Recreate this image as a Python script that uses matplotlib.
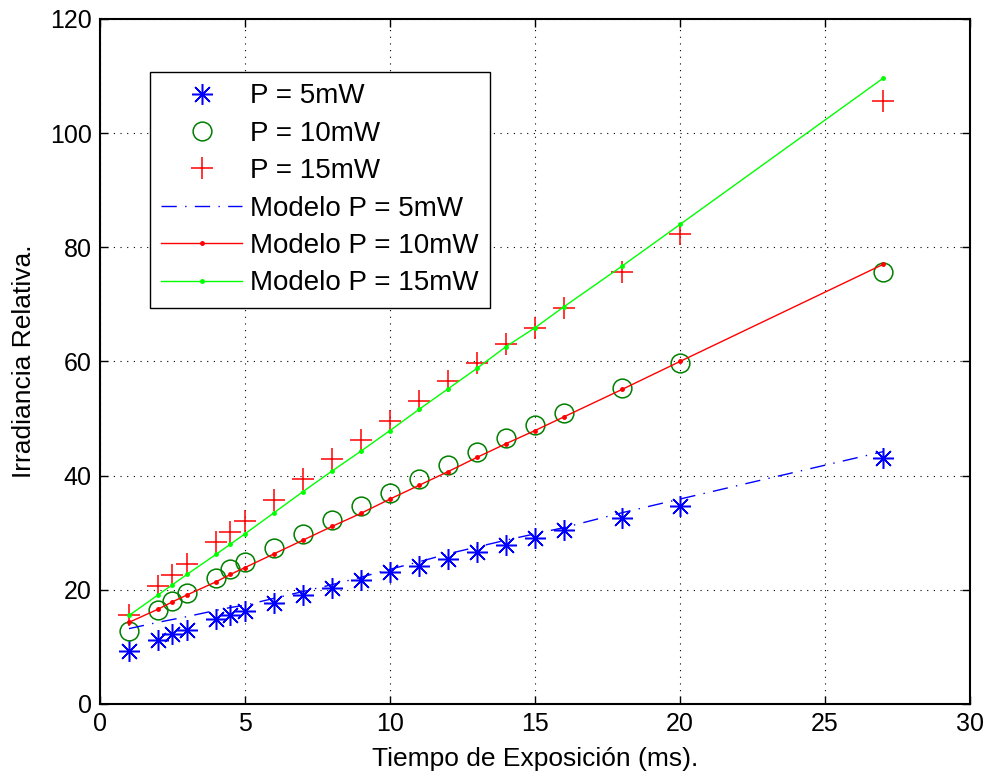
import matplotlib
matplotlib.use("Agg")
import matplotlib.pyplot as plt

x = [1, 2, 2.5, 3, 4, 4.5, 5, 6, 7, 8, 9, 10, 11, 12, 13, 14, 15, 16, 18, 20, 27]
p5 = [9.2, 11.2, 12.3, 13.0, 14.8, 15.5, 16.2, 17.7, 19.1, 20.4, 21.7, 23.1, 24.2, 25.4,
      26.7, 27.9, 29.1, 30.4, 32.6, 34.7, 43.1]
p10 = [12.8, 16.5, 18.1, 19.4, 22.1, 23.6, 24.8, 27.4, 29.8, 32.3, 34.6, 36.9, 39.4, 41.8,
       44.2, 46.6, 48.8, 50.9, 55.3, 59.7, 75.7]
p15 = [15.6, 20.6, 22.6, 24.5, 28.3, 30.2, 32.1, 35.7, 39.4, 42.9, 46.3, 49.5, 53.0, 56.5,
       59.7, 63.1, 65.9, 69.3, 75.7, 82.4, 105.7]
m5 = [13.2, 14.3, 14.8, 15.3, 16.4, 16.9, 17.3, 18.5, 19.7, 20.9, 22.2, 23.6, 24.9, 26.3,
      27.5, 28.7, 29.8, 30.9, 33.5, 35.9, 44.2]
m10 = [14.3, 16.6, 17.9, 19.1, 21.4, 22.7, 23.9, 26.3, 28.7, 31.1, 33.4, 35.9, 38.3, 40.7,
       43.2, 45.6, 47.9, 50.3, 55.1, 60.0, 77.0]
m15 = [15.5, 19.1, 20.9, 22.7, 26.2, 28.0, 29.8, 33.5, 37.2, 40.8, 44.3, 47.9, 51.6, 55.2,
       58.8, 62.6, 65.9, 69.6, 76.7, 84.0, 109.6]
labels = ["P = 5mW", "P = 10mW", "P = 15mW", "Modelo P = 5mW", "Modelo P = 10mW", "Modelo P = 15mW"]
xticks = [0, 5, 10, 15, 20, 25, 30]
yticks = [0, 20, 40, 60, 80, 100, 120]

plt.rcParams['font.family'] = ['Liberation Sans', 'DejaVu Sans']

fig = plt.figure(figsize=(9.87, 7.73), dpi=100)
ax = fig.add_axes([0.1013, 0.0893, 0.8815, 0.8862])

ax.plot(x, p5, linestyle='none', marker=(8, 2, 0), markersize=15, color='#0000ff',
        markeredgewidth=1.1, label=labels[0])
ax.plot(x, p10, linestyle='none', marker='o', markersize=13.5, markerfacecolor='none',
        markeredgecolor='#007f00', markeredgewidth=1.1, label=labels[1])
ax.plot(x, p15, linestyle='none', marker='+', markersize=16, color='#ff0000',
        markeredgewidth=1.1, label=labels[2])
ax.plot(x, m5, linestyle=(0, (11, 6, 1, 6)), color='#0000ff', linewidth=1.0, label=labels[3])
ax.plot(x, m10, '-', marker='.', markersize=5, color='#ff0000', linewidth=1.0, label=labels[4])
ax.plot(x, m15, '-', marker='.', markersize=5, color='#00ff00', linewidth=1.0, label=labels[5])

ax.set_xlim(0, 30)
ax.set_ylim(0, 120)
ax.set_xticks(xticks)
ax.set_yticks(yticks)
ax.tick_params(direction='in', length=6, width=1.0, labelsize=18, top=True, right=True,
               pad=6)
ax.grid(True, linestyle=(0, (1, 5)), color='black', linewidth=0.8)
for s in ax.spines.values():
    s.set_linewidth(1.5)

ax.set_xlabel("Tiempo de Exposición (ms).", fontsize=19, labelpad=8)
ax.set_ylabel("Irradiancia Relativa.", fontsize=19, labelpad=10)

leg = ax.legend(loc='upper left', bbox_to_anchor=(0.057, 0.923), borderaxespad=0,
                fontsize=20, frameon=True, fancybox=False, edgecolor='black', framealpha=1,
                handlelength=2.9, labelspacing=0.41, borderpad=0.42, handletextpad=0.3)
leg.get_frame().set_linewidth(1.0)

fig.savefig("out.png", dpi=100)
